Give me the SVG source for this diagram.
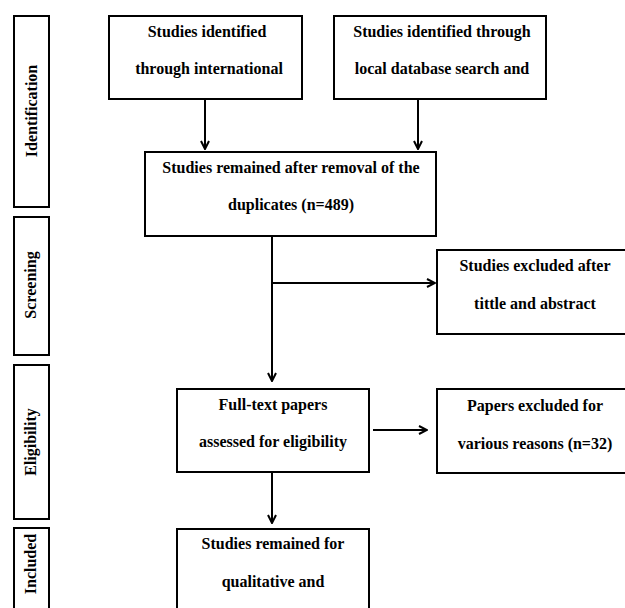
<svg xmlns="http://www.w3.org/2000/svg" width="625" height="608" viewBox="0 0 625 608">
<style>
.box{fill:#fff;stroke:#000;stroke-width:2}
.t{font-family:"Liberation Serif","Times New Roman",serif;font-weight:bold;font-size:16px;fill:#000;text-anchor:middle}
.c{stroke:#000;stroke-width:2;fill:none}
</style>
<defs>
<marker id="ah" viewBox="0 0 10 10" refX="9" refY="5" markerWidth="10" markerHeight="10" markerUnits="userSpaceOnUse" orient="auto">
<path d="M1,1 L9,5 L1,9" fill="none" stroke="#000" stroke-width="2"/>
</marker>
</defs>
<rect width="625" height="608" fill="#fff"/>
<g id="stage-identification"><rect class="box" x="14" y="16" width="35" height="191"/><text class="t" transform="translate(37,111) rotate(-90)">Identification</text></g>
<g id="stage-screening"><rect class="box" x="14" y="217" width="35" height="138"/><text class="t" transform="translate(36,285) rotate(-90)">Screening</text></g>
<g id="stage-eligibility"><rect class="box" x="14" y="365" width="35" height="154"/><text class="t" transform="translate(36,442) rotate(-90)">Eligibility</text></g>
<g id="stage-included"><rect class="box" x="14" y="528" width="35" height="100"/><text class="t" transform="translate(36,564) rotate(-90)">Included</text></g>
<g id="international"><rect class="box" x="109" y="16" width="193" height="83"/><text class="t" x="207" y="37">Studies identified</text><text class="t" x="209" y="74">through international</text></g>
<g id="local"><rect class="box" x="334" y="16" width="212" height="83"/><text class="t" x="442" y="37">Studies identified through</text><text class="t" x="442" y="74">local database search and</text></g>
<g id="duplicates"><rect class="box" x="145" y="152" width="291" height="84"/><text class="t" x="291" y="173">Studies remained after removal of the</text><text class="t" x="291" y="210">duplicates (n=489)</text></g>
<g id="excluded-title"><rect class="box" x="437" y="250" width="196" height="84"/><text class="t" x="535" y="271">Studies excluded after</text><text class="t" x="535" y="309">tittle and abstract</text></g>
<g id="fulltext"><rect class="box" x="177" y="389" width="192" height="83"/><text class="t" x="273" y="410">Full-text papers</text><text class="t" x="273" y="447">assessed for eligibility</text></g>
<g id="excluded-papers"><rect class="box" x="437" y="389" width="196" height="84"/><text class="t" x="535" y="411">Papers excluded for</text><text class="t" x="535" y="449">various reasons (n=32)</text></g>
<g id="included"><rect class="box" x="177" y="529" width="192" height="100"/><text class="t" x="273" y="549">Studies remained for</text><text class="t" x="273" y="587">qualitative and</text></g>
<g id="connectors">
<line class="c" x1="205" y1="99" x2="205" y2="149" marker-end="url(#ah)"/>
<line class="c" x1="418" y1="99" x2="418" y2="149" marker-end="url(#ah)"/>
<line class="c" x1="272" y1="236" x2="272" y2="381" marker-end="url(#ah)"/>
<line class="c" x1="272" y1="283" x2="435" y2="283" marker-end="url(#ah)"/>
<line class="c" x1="373" y1="430" x2="427" y2="430" marker-end="url(#ah)"/>
<line class="c" x1="272" y1="472" x2="272" y2="523" marker-end="url(#ah)"/>
</g>
</svg>
